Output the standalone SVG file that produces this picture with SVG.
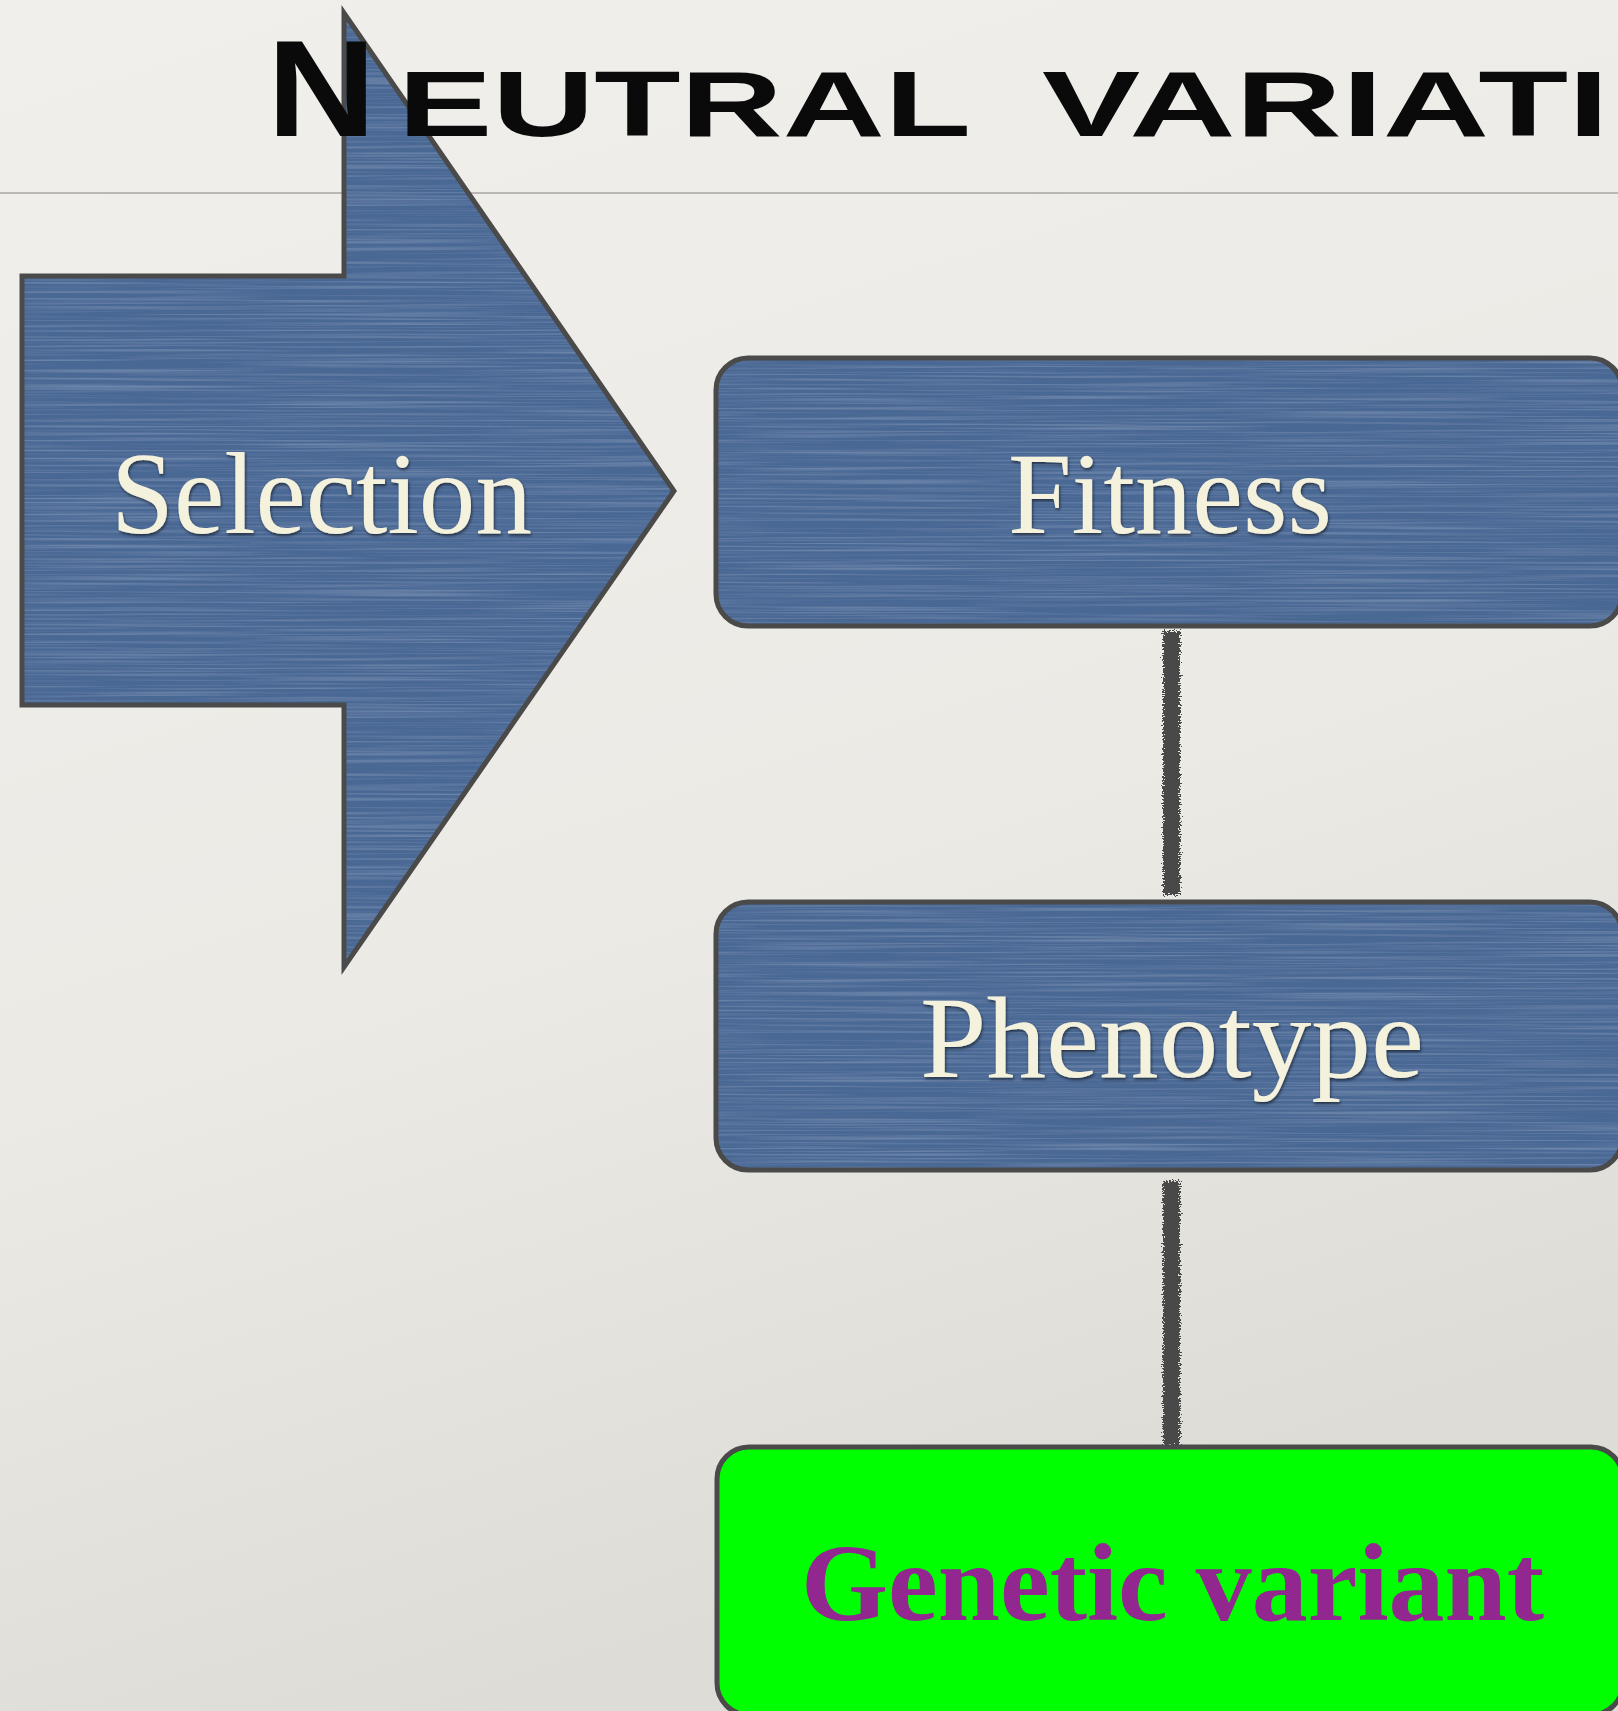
<svg xmlns="http://www.w3.org/2000/svg" width="1618" height="1711" viewBox="0 0 1618 1711">
<style>
.node{stroke:#4a4a4a;stroke-width:5}
.blue{fill:#4a6894}
.lbl{font-family:"Liberation Serif","DejaVu Serif",serif;font-size:116px;fill:#f4f1dc;filter:url(#shadow)}
.gv{font-family:"Liberation Serif","DejaVu Serif",serif;font-size:110px;font-weight:bold;fill:#92278f}
.title{font-family:"Liberation Sans","DejaVu Sans",sans-serif;font-weight:bold;fill:#0a0a0a}
.conn{fill:#4a4a4a;filter:url(#pencil)}
</style>
<defs>
<linearGradient id="bg" x1="0" y1="0" x2="0.3" y2="1">
<stop offset="0" stop-color="#f0efeb"/>
<stop offset="0.6" stop-color="#ebeae5"/>
<stop offset="1" stop-color="#dddcd6"/>
</linearGradient>
<filter id="brushed" x="0" y="0" width="1" height="1">
<feTurbulence type="fractalNoise" baseFrequency="0.004 0.5" numOctaves="2" seed="3" result="n"/>
<feColorMatrix in="n" type="matrix" values="0 0 0 0 0.36  0 0 0 0 0.48  0 0 0 0 0.66  0 0 0 0.7 -0.3" result="streak"/>
<feComposite in="streak" in2="SourceGraphic" operator="in" result="s2"/>
<feMerge><feMergeNode in="SourceGraphic"/><feMergeNode in="s2"/></feMerge>
</filter>
<filter id="shadow" x="-10%" y="-20%" width="120%" height="150%">
<feDropShadow dx="1" dy="2" stdDeviation="1.5" flood-color="#000" flood-opacity="0.55"/>
</filter>
<filter id="pencil" filterUnits="userSpaceOnUse" x="1100" y="600" width="150" height="880">
<feTurbulence type="fractalNoise" baseFrequency="0.5 0.9" numOctaves="2" seed="7" result="n"/>
<feDisplacementMap in="SourceGraphic" in2="n" scale="9" xChannelSelector="R" yChannelSelector="G"/>
</filter>
</defs>
<rect x="0" y="0" width="1618" height="1711" fill="url(#bg)"/>
<line x1="0" y1="193" x2="1618" y2="193" stroke="#b9b8b2" stroke-width="2"/>

<g id="connectors">
<rect class="conn" x="1163" y="631" width="17" height="264"/>
<rect class="conn" x="1163" y="1181" width="17" height="264"/>
</g>

<g id="selection">
<polygon class="blue" filter="url(#brushed)" points="22,276 344,276 344,13 674,491 344,967 344,705 22,705"/>
<polygon fill="none" stroke="#4a4a4a" stroke-width="5" points="22,276 344,276 344,13 674,491 344,967 344,705 22,705"/>
<text class="lbl" x="111" y="533" textLength="421" lengthAdjust="spacingAndGlyphs">Selection</text>
</g>

<g id="fitness">
<rect class="blue" filter="url(#brushed)" x="716" y="358" width="906" height="268" rx="32"/>
<rect class="node" fill="none" x="716" y="358" width="906" height="268" rx="32"/>
<text class="lbl" x="1008" y="533" textLength="324" lengthAdjust="spacingAndGlyphs">Fitness</text>
</g>

<g id="phenotype">
<rect class="blue" filter="url(#brushed)" x="716" y="902" width="906" height="268" rx="32"/>
<rect class="node" fill="none" x="716" y="902" width="906" height="268" rx="32"/>
<text class="lbl" x="920" y="1077" textLength="504" lengthAdjust="spacingAndGlyphs">Phenotype</text>
</g>

<g id="genetic-variant">
<rect class="node" fill="#00ff00" x="717" y="1447" width="906" height="268" rx="32"/>
<text class="gv" x="801" y="1620" textLength="743" lengthAdjust="spacingAndGlyphs">Genetic variant</text>
</g>

<g id="title">
<text class="title" y="136"><tspan x="267" font-size="137" textLength="109" lengthAdjust="spacingAndGlyphs">N</tspan><tspan x="398" font-size="92" textLength="573" lengthAdjust="spacingAndGlyphs">EUTRAL</tspan><tspan x="1042" font-size="92" textLength="567" lengthAdjust="spacingAndGlyphs">VARIATI</tspan></text>
</g>
</svg>
